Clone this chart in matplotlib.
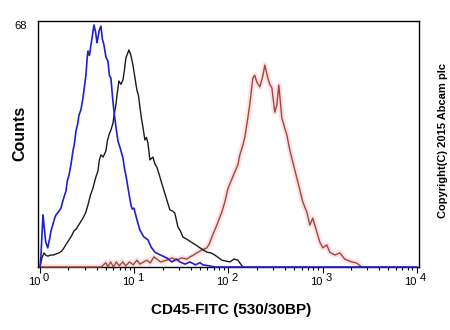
import numpy as np
import matplotlib
matplotlib.use("Agg")
import matplotlib.pyplot as plt
from matplotlib.ticker import LogLocator, NullFormatter

plt.rcParams['font.family'] = ['Liberation Sans', 'DejaVu Sans']

# histogram traces: decade position (log10 of FITC intensity) and event counts
blue_log = [0.000, 0.010, 0.021, 0.032, 0.045, 0.060, 0.082, 0.100, 0.117, 0.140,
            0.155, 0.170, 0.195, 0.223, 0.245, 0.276, 0.290, 0.308, 0.330, 0.350,
            0.365, 0.382, 0.400, 0.414, 0.435, 0.456, 0.470, 0.488, 0.500, 0.509,
            0.525, 0.541, 0.557, 0.573, 0.590, 0.605, 0.615, 0.630, 0.647, 0.662,
            0.679, 0.700, 0.721, 0.737, 0.753, 0.770, 0.785, 0.805, 0.828, 0.850,
            0.881, 0.895, 0.912, 0.940, 0.966, 0.980, 0.997, 1.030, 1.061, 1.100,
            1.146, 1.180, 1.220, 1.280, 1.347, 1.400, 1.450, 1.485, 1.540, 1.592,
            1.650, 1.700, 1.729, 1.800, 1.857, 4.000]
blue_counts = [0, 3.0, 9.0, 14.4, 11.0, 7.0, 5.3, 7.5, 10.0, 12.0,
               13.5, 14.4, 15.2, 16.3, 18.5, 21.0, 23.8, 25.4, 28.5, 32.1,
               34.0, 37.6, 39.5, 42.0, 43.5, 46.7, 49.5, 53.1, 57.5, 59.7,
               58.5, 61.4, 64.0, 66.9, 65.0, 62.0, 63.3, 65.5, 66.6, 63.0,
               61.4, 58.0, 56.9, 53.0, 52.2, 47.0, 43.1, 39.0, 34.8, 33.0,
               30.1, 27.5, 25.4, 21.0, 17.1, 16.0, 16.3, 13.0, 10.2, 8.4,
               7.5, 5.5, 4.1, 3.3, 2.5, 1.4, 2.2, 1.4, 0.8, 1.4,
               0.6, 1.2, 0.6, 0.3, 0, 0]

black_log = [0.000, 0.021, 0.042, 0.065, 0.085, 0.110, 0.138, 0.170, 0.202, 0.230,
             0.255, 0.280, 0.308, 0.335, 0.361, 0.385, 0.403, 0.430, 0.456, 0.485,
             0.509, 0.535, 0.562, 0.590, 0.615, 0.630, 0.647, 0.670, 0.700, 0.715,
             0.732, 0.755, 0.775, 0.790, 0.806, 0.820, 0.838, 0.860, 0.881, 0.897,
             0.912, 0.930, 0.944, 0.965, 0.987, 1.010, 1.029, 1.045, 1.061, 1.078,
             1.093, 1.114, 1.130, 1.146, 1.167, 1.199, 1.220, 1.241, 1.273, 1.305,
             1.347, 1.379, 1.405, 1.432, 1.464, 1.490, 1.517, 1.570, 1.623, 1.660,
             1.698, 1.772, 1.815, 1.857, 1.931, 2.016, 2.060, 2.101, 2.154]
black_counts = [0, 2.5, 3.9, 3.2, 3.0, 3.3, 3.3, 3.6, 3.9, 4.4,
                5.3, 6.4, 7.5, 8.6, 10.0, 10.5, 11.3, 12.4, 13.5, 15.0,
                17.1, 19.8, 21.8, 24.6, 26.5, 29.5, 31.0, 30.4, 32.1, 34.8,
                36.5, 38.0, 39.8, 42.5, 44.8, 48.0, 51.4, 50.5, 51.7, 54.5,
                57.8, 59.0, 60.0, 58.5, 55.8, 52.0, 48.9, 47.5, 44.2, 41.0,
                38.7, 35.1, 35.8, 34.3, 29.6, 30.4, 28.5, 27.6, 24.9, 22.1,
                18.5, 15.8, 15.5, 14.9, 11.1, 10.0, 8.3, 7.5, 6.6, 6.0,
                5.3, 4.1, 3.9, 3.3, 1.9, 1.4, 2.2, 1.9, 0]

red_log = [0.000, 0.650, 0.700, 0.720, 0.750, 0.780, 0.810, 0.840, 0.880, 0.910,
           0.950, 0.990, 1.029, 1.060, 1.100, 1.135, 1.170, 1.210, 1.241, 1.280,
           1.347, 1.400, 1.454, 1.500, 1.560, 1.592, 1.630, 1.666, 1.719, 1.772,
           1.800, 1.825, 1.878, 1.931, 1.963, 1.995, 2.037, 2.069, 2.101, 2.122,
           2.154, 2.175, 2.207, 2.228, 2.260, 2.280, 2.302, 2.334, 2.366, 2.387,
           2.419, 2.440, 2.462, 2.493, 2.515, 2.536, 2.568, 2.599, 2.621, 2.653,
           2.684, 2.727, 2.759, 2.790, 2.833, 2.865, 2.896, 2.939, 2.971, 3.003,
           3.045, 3.077, 3.130, 3.183, 3.236, 3.310, 3.363, 3.416]
red_counts = [0, 0, 1.2, 0, 1.4, 0, 1.4, 0.3, 1.4, 0.3,
              1.4, 0.6, 1.9, 0.8, 1.4, 1.9, 1.1, 2.8, 2.2, 1.4,
              1.9, 2.5, 1.9, 2.5, 2.2, 2.8, 3.3, 3.9, 4.7, 5.3,
              6.5, 8.3, 11.6, 15.2, 18.0, 21.6, 24.3, 26.3, 28.2, 31.0,
              33.7, 35.9, 41.2, 45.1, 52.2, 53.0, 51.1, 49.8, 52.8, 55.8,
              52.2, 50.5, 49.5, 42.8, 44.8, 50.3, 41.2, 38.4, 36.5, 32.3,
              29.0, 24.6, 21.3, 18.0, 15.2, 11.6, 13.5, 9.7, 6.9, 5.3,
              6.1, 4.1, 3.3, 3.9, 2.2, 1.4, 1.1, 0]

x_decades = [0, 1, 2, 3, 4]
y_max = 68

fig = plt.figure(figsize=(4.5, 3.3), dpi=100)
ax = fig.add_axes([37.5 / 450, 63 / 330, 381 / 450, 246 / 330])

red_x = 10 ** np.array(red_log)
ax.plot(red_x, red_counts, color='#fde0e8', lw=4.0, solid_joinstyle='round', zorder=1)
ax.plot(red_x, red_counts, color='#9e4a33', lw=1.0, zorder=3, clip_on=False)
ax.plot(10 ** np.array(black_log), black_counts, color='#1a1a1a', lw=1.0, zorder=4, clip_on=False)
ax.plot(10 ** np.array(blue_log), blue_counts, color='#1f1fd0', lw=1.2, zorder=5, clip_on=False)

ax.set_xscale('log')
ax.set_xlim(10 ** -0.0265, 10 ** 4.019)
ax.set_ylim(0, y_max)

ax.xaxis.set_major_locator(LogLocator(base=10, numticks=10))
ax.xaxis.set_minor_locator(LogLocator(base=10, subs=np.arange(2, 10), numticks=20))
ax.xaxis.set_major_formatter(NullFormatter())
ax.xaxis.set_minor_formatter(NullFormatter())
ax.tick_params(axis='x', which='major', direction='out', length=4.5, width=0.8, color='black')
ax.tick_params(axis='x', which='minor', direction='out', length=2.5, width=0.8, color='black')

ax.set_yticks([y_max])
ax.set_yticklabels([str(y_max)], fontsize=8, va='top')
ax.tick_params(axis='y', length=0, pad=8)

for sp in ax.spines.values():
    sp.set_linewidth(1.0)

# decade labels drawn as "10" with the exponent set off to the upper right
for k in x_decades:
    ax.annotate('10', xy=(10 ** k, 0), xycoords=('data', 'axes fraction'),
                xytext=(0, -7.5), textcoords='offset points',
                ha='right', va='top', fontsize=8)
    ax.annotate(str(k), xy=(10 ** k, 0), xycoords=('data', 'axes fraction'),
                xytext=(2.2, -4.0), textcoords='offset points',
                ha='left', va='top', fontsize=8)

fig.text(231 / 450, 1 - 310 / 330, 'CD45-FITC (530/30BP)', ha='center', va='center',
         fontsize=11, fontweight='bold')
fig.text(20 / 450, 1 - 133 / 330, 'Counts', ha='center', va='center', rotation=90,
         fontsize=11.5, fontweight='bold')
fig.text(443 / 450, 1 - 141 / 330, 'Copyright(C) 2015 Abcam plc', ha='center', va='center',
         rotation=90, fontsize=8, fontweight='bold')

fig.savefig('out.png', dpi=100)
